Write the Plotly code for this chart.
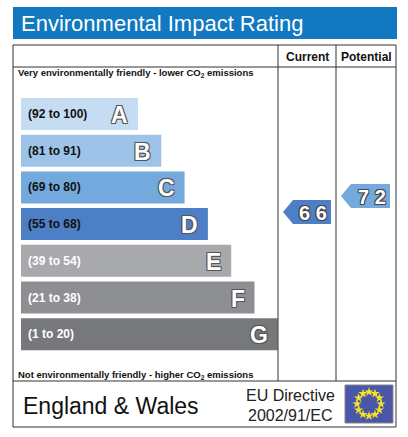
import plotly.graph_objects as go
import math

bands = ["A", "B", "C", "D", "E", "F", "G"]
ranges = ["(92 to 100)", "(81 to 91)", "(69 to 80)", "(55 to 68)", "(39 to 54)", "(21 to 38)", "(1 to 20)"]
band_lo = [92, 81, 69, 55, 39, 21, 1]
colors = ["#c5dcf2", "#9dc4e8", "#73a9dc", "#4d7fc6", "#a8a9ad", "#8e8f93", "#77787b"]
current = 66
potential = 72

W, H = 408, 437
bar_x0 = 21
bar_top0 = 98
bar_step = 36.7
bar_h = 32
bar_len = [117 + 23.3 * i for i in range(7)]
ys = [bar_top0 + bar_h / 2 + bar_step * i for i in range(7)]

fig = go.Figure()
fig.add_trace(go.Bar(x=bar_len, y=ys, base=bar_x0, orientation="h", width=bar_h,
                     marker=dict(color=colors, line_width=0), hoverinfo="skip"))

shapes = []
ann = []
# title bar
shapes.append(dict(type="rect", x0=13, x1=397, y0=7, y1=39, fillcolor="#1278c0", line_width=0))
ann.append(dict(x=19, y=23, text="Environmental Impact Rating", xanchor="left", showarrow=False,
                font=dict(color="white", size=22, family="Liberation Sans")))
# frame
line = dict(color="#333", width=1)
shapes += [
    dict(type="rect", x0=13, x1=396, y0=45, y1=427, line=line),
    dict(type="line", x0=13, x1=396, y0=67, y1=67, line=line),
    dict(type="line", x0=13, x1=396, y0=381, y1=381, line=line),
    dict(type="line", x0=278, x1=278, y0=45, y1=381, line=line),
    dict(type="line", x0=336, x1=336, y0=45, y1=381, line=line),
]
ann.append(dict(x=307, y=57, text="<b>Current</b>", showarrow=False, font=dict(size=12, color="#111")))
ann.append(dict(x=366, y=57, text="<b>Potential</b>", showarrow=False, font=dict(size=12, color="#111")))
ann.append(dict(x=16, y=73, text="<b>Very environmentally friendly - lower CO<sub>2</sub> emissions</b>",
                xanchor="left", showarrow=False, font=dict(size=9.5, color="#111")))
ann.append(dict(x=16, y=375, text="<b>Not environmentally friendly - higher CO<sub>2</sub> emissions</b>",
                xanchor="left", showarrow=False, font=dict(size=9.5, color="#111")))

for i, b in enumerate(bands):
    dark = i < 4
    ann.append(dict(x=26, y=ys[i], text="<b>" + ranges[i] + "</b>", xanchor="left", showarrow=False,
                    font=dict(size=12, color="#111" if dark else "white")))
    ann.append(dict(x=bar_x0 + bar_len[i] - 8, y=ys[i] + 1, text="<b>" + b + "</b>", xanchor="right",
                    showarrow=False,
                    font=dict(size=23, color="white", family="Liberation Sans",
                              shadow="1px 1px 0 #555, -1px -1px 0 #555, 1px -1px 0 #555, -1px 1px 0 #555")))


def band_of(v):
    for i, lo in enumerate(band_lo):
        if v >= lo:
            return i
    return 6


def arrow(v, x0, x1, yc):
    i = band_of(v)
    h = 12
    tip = 10
    path = f"M {x0},{yc} L {x0+tip},{yc-h} L {x1},{yc-h} L {x1},{yc+h} L {x0+tip},{yc+h} Z"
    shapes.append(dict(type="path", path=path, fillcolor=colors[i], line_width=0))
    ann.append(dict(x=(x0 + tip + x1) / 2 + 1, y=yc + 1, text="<b>" + " ".join(str(v)) + "</b>",
                    showarrow=False,
                    font=dict(size=20, color="white", family="Liberation Sans",
                              shadow="1px 1px 0 #444, -1px -1px 0 #444, 1px -1px 0 #444, -1px 1px 0 #444")))


arrow(current, 283, 331, 212)
arrow(potential, 341, 390, 196)

# footer
ann.append(dict(x=21, y=406, text="England &amp; Wales", xanchor="left", showarrow=False,
                font=dict(size=23, color="#111", family="Liberation Sans")))
ann.append(dict(x=290, y=395, text="EU Directive", showarrow=False,
                font=dict(size=16, color="#222", family="Liberation Sans")))
ann.append(dict(x=290, y=415, text="2002/91/EC", showarrow=False,
                font=dict(size=16, color="#222", family="Liberation Sans")))
shapes.append(dict(type="rect", x0=345, x1=393, y0=385, y1=423, fillcolor="#4a56a8",
                   line=dict(color="#888", width=1), layer="below"))
sx = [369 + 12 * math.sin(2 * math.pi * k / 12) for k in range(12)]
sy = [404 - 12 * math.cos(2 * math.pi * k / 12) for k in range(12)]
fig.add_trace(go.Scatter(x=sx, y=sy, mode="markers", hoverinfo="skip",
                         marker=dict(symbol="star", size=7, color="#f5e22a", line_width=0)))

fig.update_layout(width=W, height=H, margin=dict(l=0, r=0, t=0, b=0), showlegend=False,
                  paper_bgcolor="white", plot_bgcolor="white", shapes=shapes, annotations=ann,
                  font=dict(family="Liberation Sans"),
                  xaxis=dict(range=[0, W], visible=False, fixedrange=True),
                  yaxis=dict(range=[H, 0], visible=False, fixedrange=True))
fig.write_html("out.html", config={"displayModeBar": False},
               post_script="document.body.style.margin='0';document.body.style.overflow='hidden';")
